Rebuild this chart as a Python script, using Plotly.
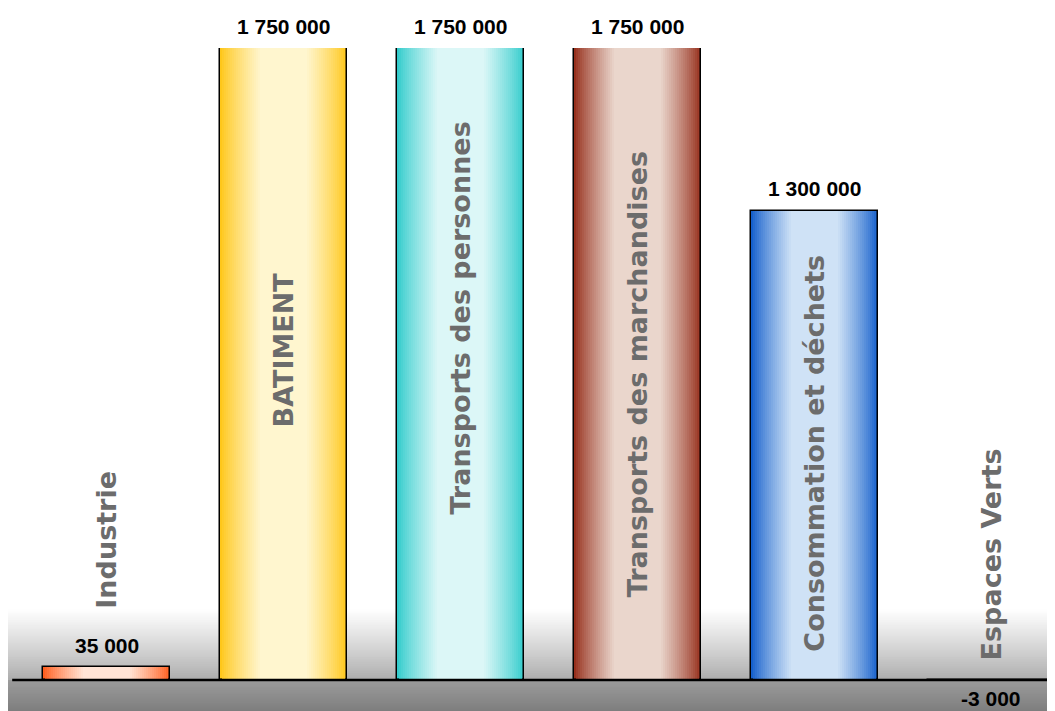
import plotly.graph_objects as go

categories = ["Industrie", "BATIMENT", "Transports des personnes",
              "Transports des marchandises", "Consommation et déchets", "Espaces Verts"]
values = [35000, 1750000, 1750000, 1750000, 1300000, -3000]
value_labels = ["35 000", "1 750 000", "1 750 000", "1 750 000", "1 300 000", "-3 000"]
edge_colors = ["#ff5f1f", "#ffc71a", "#33cccc", "#962f1c", "#1560cc", "#2e8b5f"]
center_colors = ["#ffe4d6", "#fff6cf", "#dcf7f7", "#ead6cc", "#cfe2f6", "#e2f2e8"]
# vertical position (data units) of the rotated category captions
caption_y = [387000, 914000, 1002000, 845000, 628000, 349000]

YMIN, YMAX = -86000, 1750000
BAR_W = 0.7175
N = 32


def hex2rgb(h):
    h = h.lstrip("#")
    return [int(h[i:i + 2], 16) for i in (0, 2, 4)]


def mix(a, b, t):
    ca, cb = hex2rgb(a), hex2rgb(b)
    return "rgb(%d,%d,%d)" % tuple(round(x + (y - x) * t) for x, y in zip(ca, cb))


fig = go.Figure()
for k in range(N):
    t = min(1.0, k / (0.62 * N))
    t = t ** 0.85
    cols = [mix(e, c, t) for e, c in zip(edge_colors, center_colors)]
    fig.add_trace(go.Bar(
        x=categories, y=values, width=BAR_W * (1 - k / N),
        marker=dict(color=cols,
                    line=dict(color="black", width=1.5 if k == 0 else 0)),
        hoverinfo="skip", showlegend=False, cliponaxis=True,
    ))

shapes = []
# gray gradient above baseline (nested rects, no gaps)
nb = 40
top = 195000
for i in range(nb - 1, -1, -1):
    y1 = top * (i + 1) / nb
    t = (i + 0.5) / nb
    g = round(0xab + (0xff - 0xab) * (t ** 0.9))
    shapes.append(dict(type="rect", xref="paper", yref="y", x0=0, x1=1, y0=0, y1=y1,
                       fillcolor="rgb(%d,%d,%d)" % (g, g, g), line=dict(width=0),
                       layer="below"))
# darker gray band below baseline
for i in range(nb - 1, -1, -1):
    y1 = YMIN * (i + 1) / nb
    t = (i + 0.5) / nb
    g = round(0x9c + (0x7e - 0x9c) * t)
    shapes.append(dict(type="rect", xref="paper", yref="y", x0=0, x1=1, y0=0, y1=y1,
                       fillcolor="rgb(%d,%d,%d)" % (g, g, g), line=dict(width=0),
                       layer="below"))
# baseline
shapes.append(dict(type="line", xref="paper", yref="y", x0=0.004, x1=1, y0=0, y1=0,
                   line=dict(color="black", width=2.5), layer="above"))

annotations = []
for cat, v, lab in zip(categories, values, value_labels):
    annotations.append(dict(
        x=cat, y=v, text="<b>%s</b>" % lab, showarrow=False,
        yanchor="middle", yshift=22 if v >= 0 else -17,
        font=dict(family="Liberation Sans, Arial, sans-serif", size=21, color="black"),
    ))
for cat, cy in zip(categories, caption_y):
    annotations.append(dict(
        x=cat, y=cy, text="<b>%s</b>" % cat, showarrow=False, textangle=-90,
        xanchor="center", yanchor="middle",
        font=dict(family="DejaVu Sans, Verdana, sans-serif", size=27, color="#6c6c6c"),
    ))

fig.update_layout(
    width=1047, height=703,
    margin=dict(l=0, r=0, t=40, b=0),
    paper_bgcolor="white", plot_bgcolor="white",
    barmode="overlay", bargap=0,
    xaxis=dict(range=[-0.5565, 5.3588], showticklabels=False, showgrid=False,
               zeroline=False, showline=False, ticks=""),
    yaxis=dict(range=[YMIN, YMAX], showticklabels=False, showgrid=False,
               zeroline=False, showline=False, ticks=""),
    shapes=shapes, annotations=annotations,
)

fig.write_html("out.html")
